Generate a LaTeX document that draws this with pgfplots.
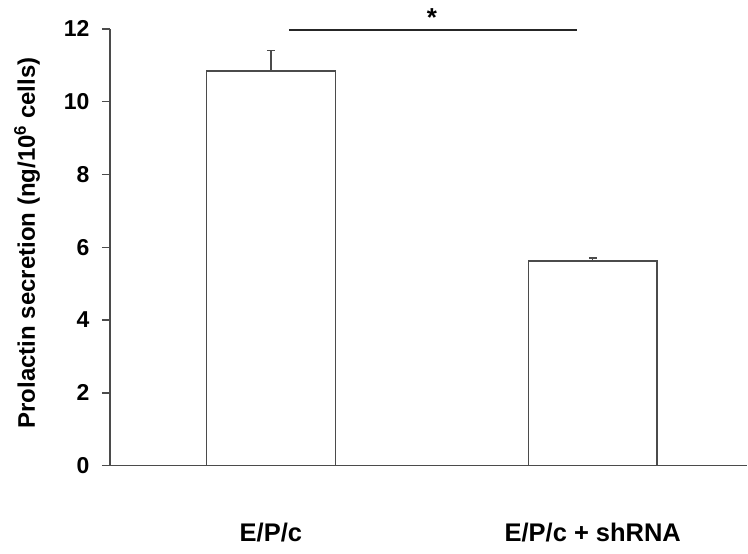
\documentclass[border=0pt]{standalone}
\usepackage{pgfplots}
\pgfplotsset{compat=1.18}
\usepackage{fontspec}
\setmainfont{Liberation Sans}
\definecolor{axgray}{RGB}{75,75,75}
\begin{document}
\begin{tikzpicture}[x=1pt,y=1pt]
\begin{axis}[
  at={(0,0)}, anchor=origin,
  scale only axis, width=638pt, height=437pt,
  xmin=0.5, xmax=2.48, ymin=0, ymax=12,
  axis x line=bottom, axis y line=left,
  axis line style={axgray, line width=1.4pt, -},
  ytick={0,2,...,12},
  xtick={1,2}, xticklabels={E/P/c, E/P/c + shRNA},
  x tick style={draw=none},
  y tick style={axgray, line width=1.4pt},
  tick align=outside, major tick length=8pt,
  yticklabel style={font=\fontsize{23}{25}\selectfont\bfseries, xshift=-9pt},
  /pgf/number format/assume math mode=true,
  xticklabel style={font=\fontsize{25.5}{27}\selectfont\bfseries, anchor=north, yshift=-46pt},
  ylabel={Prolactin secretion (ng/10\textsuperscript{6} cells)},
  ylabel style={font=\fontsize{24}{26}\selectfont\bfseries, at={(axis description cs:-0.13,0.51)}, anchor=center},
  clip=false,
]
\addplot[ybar, bar width=0.4, fill=white, draw=axgray, line width=1.4pt,
  error bars/.cd, y dir=plus, y explicit,
  error bar style={axgray, line width=1.4pt},
  error mark options={rotate=90, mark size=4pt, axgray, line width=1.4pt}]
  coordinates {(1,10.85) +- (0,0.56) (2,5.62) +- (0,0.08)};
\addplot[black!85, line width=1.8pt] coordinates {(1.056,11.97) (1.95,11.97)};
\node[font=\fontsize{26}{28}\selectfont\bfseries] at (axis cs:1.5,12.3) {*};
\end{axis}
\useasboundingbox (-110,-88) rectangle (638,466);
\end{tikzpicture}
\end{document}
